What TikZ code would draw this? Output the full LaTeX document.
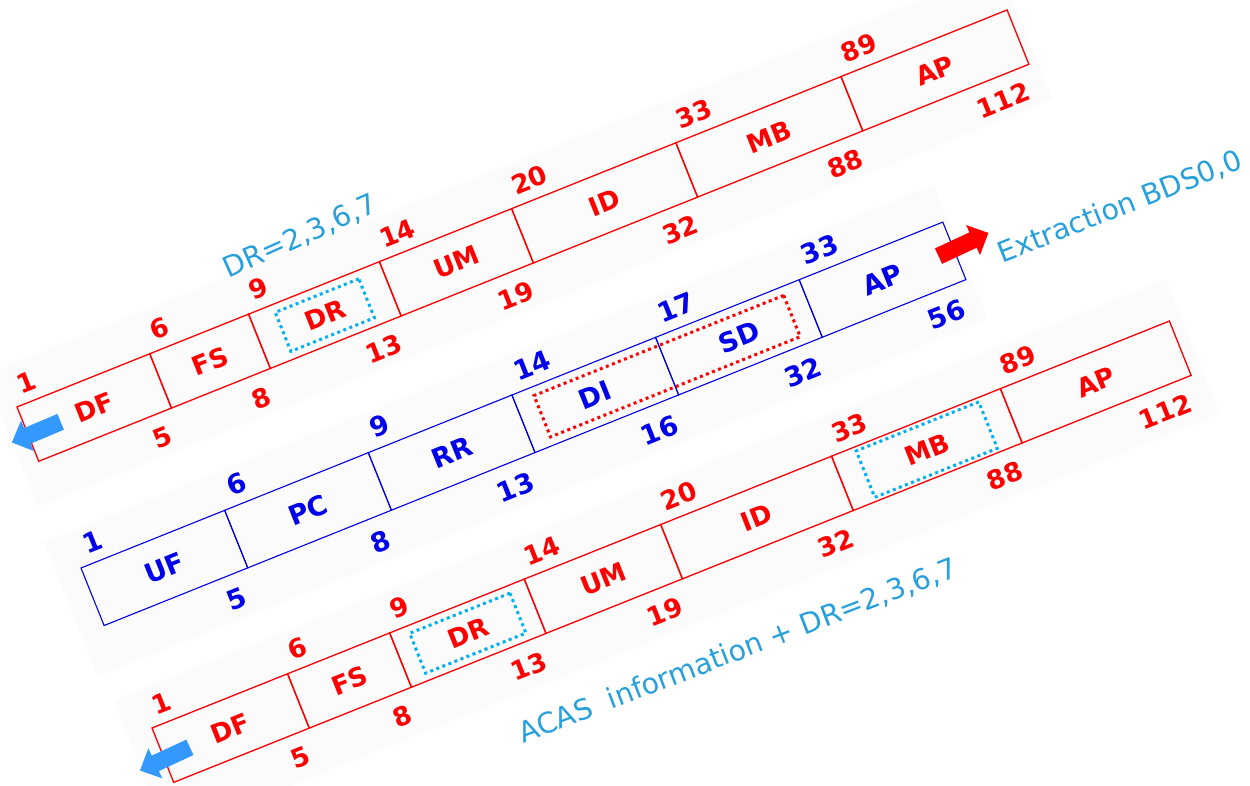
\documentclass[tikz,border=0pt]{standalone}
\usepackage{fontspec}
\setmainfont{DejaVu Sans}
\usepackage{tikz}
\usetikzlibrary{positioning,arrows.meta}

\definecolor{fieldblue}{RGB}{0,0,235}
\definecolor{notecyan}{RGB}{40,160,220}
\definecolor{dotcyan}{RGB}{0,176,240}
\definecolor{arrowblue}{RGB}{51,153,255}
\definecolor{bandgray}{RGB}{251,251,251}

\begin{document}
\begin{tikzpicture}[
    x=1pt, y=1pt,
    redfield/.style={draw=red, line width=1.3pt, minimum height=58.5pt, inner sep=0pt, outer sep=0pt,
                     text=red, font=\bfseries\fontsize{26}{26}\selectfont},
    bluefield/.style={draw=fieldblue, line width=1.1pt, minimum height=62pt, minimum width=154.8pt,
                      inner sep=0pt, outer sep=0pt, text=fieldblue, font=\bfseries\fontsize{27}{27}\selectfont},
    rednum/.style={inner sep=0pt, text=red, font=\bfseries\fontsize{26}{26}\selectfont},
    bluenum/.style={inner sep=0pt, text=fieldblue, font=\bfseries\fontsize{27}{27}\selectfont},
    cyandots/.style={draw=dotcyan, line width=3pt, dash pattern=on 3pt off 3.5pt, inner sep=0pt, outer sep=0pt},
    reddots/.style={draw=red, line width=3pt, dash pattern=on 3pt off 3.5pt, inner sep=0pt, outer sep=0pt},
    notetext/.style={text=notecyan, inner sep=0pt, font=\fontsize{28.5}{28.5}\selectfont},
    backband/.style={fill=bandgray},
    fatarr/.style={line width=17pt, -{Triangle[length=17pt, width=32pt]}}
  ]
  \useasboundingbox (0,0) rectangle (1250,785);

  % upper reply frame
  \begin{scope}[shift={(17,378)}, rotate=21.85, transform shape]
    \fill[backband] (-18,42) rectangle (1076,-100);
    \node[redfield, minimum width=143pt, anchor=north west] (udf) at (0,0) {DF};
    \node[redfield, minimum width=106.5pt, right=0pt of udf] (ufs) {FS};
    \node[redfield, minimum width=141pt, right=0pt of ufs] (udr) {DR};
    \node[redfield, minimum width=142.5pt, right=0pt of udr] (uum) {UM};
    \node[redfield, minimum width=177pt, right=0pt of uum] (uid) {ID};
    \node[redfield, minimum width=178pt, right=0pt of uid] (umb) {MB};
    \node[redfield, minimum width=179pt, right=0pt of umb] (uap) {AP};
    \node[cyandots, minimum width=90pt, minimum height=42pt] (udrbox) at (udr) {};

    \node[rednum, above right=10pt and 9pt of udf.north west] (ub1) {1};
    \node[rednum, above right=10pt and 9pt of ufs.north west] (ub6) {6};
    \node[rednum, above right=10pt and 9pt of udr.north west] (ub9) {9};
    \node[rednum, above right=10pt and 9pt of uum.north west] (ub14) {14};
    \node[rednum, above right=10pt and 9pt of uid.north west] (ub20) {20};
    \node[rednum, above right=10pt and 9pt of umb.north west] (ub33) {33};
    \node[rednum, above right=10pt and 9pt of uap.north west] (ub89) {89};
    \node[rednum, below left=14pt and 10pt of udf.south east] (ub5) {5};
    \node[rednum, below left=14pt and 10pt of ufs.south east] (ub8) {8};
    \node[rednum, below left=14pt and 10pt of udr.south east] (ub13) {13};
    \node[rednum, below left=14pt and 10pt of uum.south east] (ub19) {19};
    \node[rednum, below left=14pt and 10pt of uid.south east] (ub32) {32};
    \node[rednum, below left=14pt and 10pt of umb.south east] (ub88) {88};
    \node[rednum, below left=14pt and 10pt of uap.south east] (ub112) {112};

    \coordinate (uarrtail) at (35,-30);
    \coordinate (uarrtip) at (-18,-31);
  \end{scope}

  % interrogation frame
  \begin{scope}[shift={(81,217)}, rotate=21.87, transform shape]
    \fill[backband] (-25,38) rectangle (934,-107);
    \node[bluefield, anchor=north west] (muf) at (0,0) {UF};
    \node[bluefield, right=0pt of muf] (mpc) {PC};
    \node[bluefield, right=0pt of mpc] (mrr) {RR};
    \node[bluefield, right=0pt of mrr] (mdi) {DI};
    \node[bluefield, right=0pt of mdi] (msd) {SD};
    \node[bluefield, right=0pt of msd] (map) {AP};
    \node[reddots, minimum width=269pt, minimum height=44.5pt] (mdibox) at (mdi.east) {};

    \node[bluenum, above right=10pt and 11pt of muf.north west] (mb1) {1};
    \node[bluenum, above right=10pt and 11pt of mpc.north west] (mb6) {6};
    \node[bluenum, above right=10pt and 11pt of mrr.north west] (mb9) {9};
    \node[bluenum, above right=10pt and 11pt of mdi.north west] (mb14) {14};
    \node[bluenum, above right=10pt and 11pt of msd.north west] (mb17) {17};
    \node[bluenum, above right=10pt and 11pt of map.north west] (mb33) {33};
    \node[bluenum, below left=15pt and 12pt of muf.south east] (mb5) {5};
    \node[bluenum, below left=15pt and 12pt of mpc.south east] (mb8) {8};
    \node[bluenum, below left=15pt and 12pt of mrr.south east] (mb13) {13};
    \node[bluenum, below left=15pt and 12pt of mdi.south east] (mb16) {16};
    \node[bluenum, below left=15pt and 12pt of msd.south east] (mb32) {32};
    \node[bluenum, below left=15pt and 12pt of map.south east] (mb56) {56};

    \coordinate (marrtail) at (912,-30);
    \coordinate (marrtip) at (967,-27);
  \end{scope}

  % lower reply frame
  \begin{scope}[shift={(152,57)}, rotate=21.8, transform shape]
    \fill[backband] (-25,40) rectangle (1108,-105);
    \node[redfield, minimum width=146pt, anchor=north west] (ldf) at (0,0) {DF};
    \node[redfield, minimum width=110pt, right=0pt of ldf] (lfs) {FS};
    \node[redfield, minimum width=145pt, right=0pt of lfs] (ldr) {DR};
    \node[redfield, minimum width=147pt, right=0pt of ldr] (lum) {UM};
    \node[redfield, minimum width=184pt, right=0pt of lum] (lid) {ID};
    \node[redfield, minimum width=182pt, right=0pt of lid] (lmb) {MB};
    \node[redfield, minimum width=182pt, right=0pt of lmb] (lap) {AP};
    \node[cyandots, minimum width=108pt, minimum height=43pt] (ldrbox) at (ldr) {};
    \node[cyandots, minimum width=132pt, minimum height=50pt] (lmbbox) at (lmb) {};

    \node[rednum, above right=10pt and 9pt of ldf.north west] (lb1) {1};
    \node[rednum, above right=10pt and 9pt of lfs.north west] (lb6) {6};
    \node[rednum, above right=10pt and 9pt of ldr.north west] (lb9) {9};
    \node[rednum, above right=10pt and 9pt of lum.north west] (lb14) {14};
    \node[rednum, above right=10pt and 9pt of lid.north west] (lb20) {20};
    \node[rednum, above right=10pt and 9pt of lmb.north west] (lb33) {33};
    \node[rednum, above right=10pt and 9pt of lap.north west] (lb89) {89};
    \node[rednum, below left=14pt and 10pt of ldf.south east] (lb5) {5};
    \node[rednum, below left=14pt and 10pt of lfs.south east] (lb8) {8};
    \node[rednum, below left=14pt and 10pt of ldr.south east] (lb13) {13};
    \node[rednum, below left=14pt and 10pt of lum.south east] (lb19) {19};
    \node[rednum, below left=14pt and 10pt of lid.south east] (lb32) {32};
    \node[rednum, below left=14pt and 10pt of lmb.south east] (lb88) {88};
    \node[rednum, below left=14pt and 10pt of lap.south east] (lb112) {112};

    \coordinate (larrtail) at (28,-32);
    \coordinate (larrtip) at (-27,-35);
  \end{scope}

  % notes and arrows
  \node[notetext, rotate=24] (drnote) at (300,548) {DR=2,3,6,7};
  \node[notetext, rotate=21.5] (bdsnote) at (1120,578) {Extraction BDS0,0};
  \node[notetext, rotate=21] (acasnote) at (738,134) {ACAS~ information + DR=2,3,6,7};

  \draw[fatarr, arrowblue] (uarrtail) -- (uarrtip);
  \draw[fatarr, red] (marrtail) -- (marrtip);
  \draw[fatarr, arrowblue] (larrtail) -- (larrtip);
\end{tikzpicture}
\end{document}
